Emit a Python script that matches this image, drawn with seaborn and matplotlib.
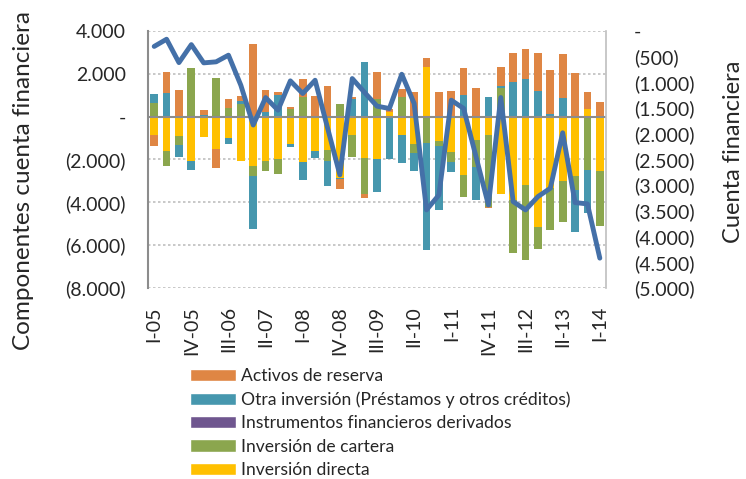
import numpy as np
import matplotlib
matplotlib.use("Agg")
import matplotlib.pyplot as plt
from matplotlib.patches import Patch
from matplotlib.ticker import FuncFormatter
import seaborn as sns

# quarters I-05 .. I-14
years = ["05", "06", "07", "08", "09", "10", "11", "12", "13", "14"]
quarters = ["I", "II", "III", "IV"]
periods = [f"{q}-{y}" for y in years for q in quarters][:37]

# componentes (millones), signo incluido
inv_directa = [-850, -1600, -900, -2090, -930, -1520, -980, -2060, -2320, -2060,
               -1980, -1270, -2140, -1580, -1550, -2870, -850, -1940, -1980, 230,
               -860, -1290, 2330, -1130, -1630, -2720, -1090, -860, -3600, -3880,
               -3180, -5160, -3330, -3020, -2790, 340, -2530]
inv_cartera = [620, -700, -420, 2250, 0, 1810, 390, 570, -430, -500,
               -680, 340, 930, 0, -540, 590, -1010, -1660, 810, 0,
               930, -420, -1210, -260, -470, -1040, -1240, -3340, 1360, -2480,
               -3490, -1040, -1940, -1890, -620, -2510, -2560]
derivados = [0] * 37
otra_inversion = [430, 1120, -570, -420, 80, 0, -310, 150, -2480, 230,
                  1010, -150, -810, -330, -1170, -50, 810, 2560, -1550, -1990,
                  -1290, -850, -5030, -2950, -470, 1010, -1550, 900, 80, 1630,
                  1740, 1190, 120, 880, -1970, -1980, -30]
activos_reserva = [-510, 980, 1240, 0, 230, -880, 420, 260, 3410, 1010,
                   140, 90, 810, 960, 1440, -470, 90, -200, 1260, 110,
                   340, 1130, 430, 1170, 1190, 1240, 1320, -80, 860, 1360,
                   1440, 1780, 2080, 2050, 2050, 810, 680]
cuenta_financiera = [-300, -160, -615, -265, -620, -600, -470, -1055, -1830, -1295,
                     -1540, -970, -1216, -958, -1880, -2800, -925, -1197, -1462, -1508,
                     -841, -1410, -3481, -3190, -1346, -1508, -2446, -3384, -1294, -3319,
                     -3481, -3222, -3060, -1980, -3338, -3364, -4419]

series = [
    ("Inversión directa", inv_directa, "#FFC000"),
    ("Inversión de cartera", inv_cartera, "#8BA64E"),
    ("Instrumentos financieros derivados", derivados, "#6F568F"),
    ("Otra inversión (Préstamos y otros créditos)", otra_inversion, "#4697AE"),
    ("Activos de reserva", activos_reserva, "#DF8644"),
]
line_color = "#4470A8"
grey = "#8C8C8C"


def fmt_num(v, pos=None):
    if abs(v) < 1e-9:
        return "-"
    s = f"{abs(v):,.0f}".replace(",", ".")
    return f"({s})" if v < 0 else s


sns.set_style("white")
plt.rcParams["font.family"] = ["Lato", "DejaVu Sans"]

fig = plt.figure(figsize=(7.46, 4.79), dpi=100)
ax = fig.add_axes([148 / 746, 1 - 288 / 479, 458 / 746, 257 / 479])

x = np.arange(len(periods))
pos_base = np.zeros(len(x))
neg_base = np.zeros(len(x))
for name, vals, color in series:
    v = np.array(vals, dtype=float)
    bottom = np.where(v >= 0, pos_base, neg_base)
    ax.bar(x, v, bottom=bottom, width=0.62, color=color, linewidth=0, zorder=2)
    pos_base = pos_base + np.where(v > 0, v, 0)
    neg_base = neg_base + np.where(v < 0, v, 0)

ax.set_xlim(-0.5, len(x) - 0.5)
ax.set_ylim(-8000, 4000)
ax.set_yticks(np.arange(-8000, 4001, 2000))
ax.yaxis.set_major_formatter(FuncFormatter(fmt_num))
ax.grid(axis="y", linestyle=(0, (1.5, 1.5)), color="#BFBFBF", linewidth=1.2, zorder=0)
ax.axhline(0, color=grey, linewidth=1.5, zorder=3)
ax.set_xticks(x[::3])
ax.set_xticklabels(periods[::3], rotation=90)
ax.tick_params(axis="y", length=0, labelsize=14, pad=16)
ax.tick_params(axis="x", length=0, labelsize=14, pad=13)
for s in ["top", "bottom", "right"]:
    ax.spines[s].set_visible(False)
ax.spines["left"].set_color(grey)
ax.spines["left"].set_linewidth(1.5)
ax.set_ylabel("Componentes cuenta financiera", fontsize=17.5)
ax.yaxis.set_label_coords(-0.249, 0.42)

ax2 = ax.twinx()
sns.lineplot(x=x, y=cuenta_financiera, ax=ax2, color=line_color, linewidth=3.5, zorder=5)
ax2.set_ylim(-5000, 0)
ax2.set_yticks(np.arange(-5000, 1, 500))
ax2.yaxis.set_major_formatter(FuncFormatter(fmt_num))
ax2.tick_params(axis="y", length=0, labelsize=14, pad=20)
for s in ["top", "bottom", "left"]:
    ax2.spines[s].set_visible(False)
ax2.spines["right"].set_color("#BFBFBF")
ax2.spines["right"].set_linewidth(1.2)
ax2.set_ylabel("Cuenta financiera", fontsize=17)
ax2.yaxis.set_label_coords(1.2555, 0.53)
ax2.grid(False)

handles = [Patch(facecolor=c, label=n) for n, _, c in series][::-1]
fig.legend(handles=handles, loc="upper left", bbox_to_anchor=(183 / 746, 1 - 361 / 479),
           frameon=False, fontsize=12.6, handlelength=2.6, handleheight=0.72,
           handletextpad=0.3, labelspacing=0.42, borderaxespad=0)

fig.savefig("out.png", dpi=100)
